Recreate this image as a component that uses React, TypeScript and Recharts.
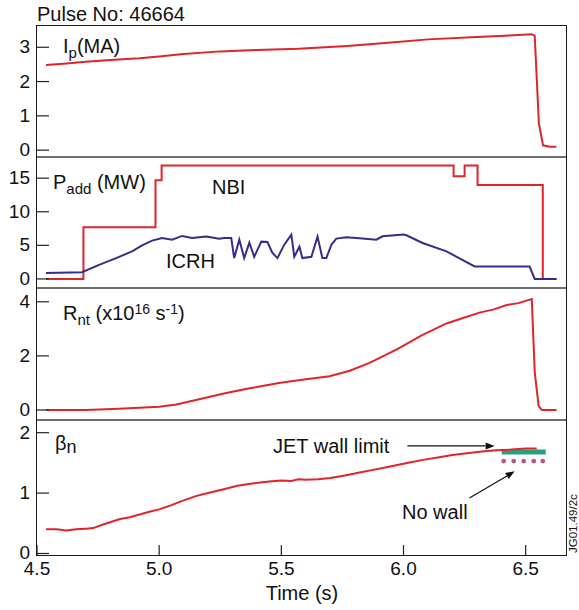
import { LineChart, ComposedChart, Line, Scatter, XAxis, YAxis, ReferenceLine } from 'recharts'

// time axis (s)
const X_DOMAIN: [number, number] = [4.5, 6.665]
const X_TICKS = [4.5, 5.0, 5.5, 6.0, 6.5]

// plasma current Ip (MA)
const IP_T = [4.537, 4.62, 4.7, 4.8, 4.92, 5.0, 5.1, 5.25, 5.4, 5.57, 5.77, 5.95, 6.1, 6.3, 6.45, 6.525, 6.537, 6.554, 6.571, 6.6, 6.626]
const IP_V = [2.48, 2.53, 2.58, 2.63, 2.68, 2.73, 2.8, 2.88, 2.92, 2.96, 3.04, 3.14, 3.23, 3.3, 3.35, 3.38, 3.33, 0.78, 0.14, 0.1, 0.1]

// NBI power (MW)
const NBI_T = [4.537, 4.69, 4.69, 4.985, 4.985, 5.01, 5.01, 6.205, 6.205, 6.25, 6.25, 6.303, 6.303, 6.57, 6.57, 6.626]
const NBI_V = [0, 0, 7.7, 7.7, 14.7, 14.7, 16.9, 16.9, 15.3, 15.3, 16.9, 16.9, 14.0, 14.0, 0, 0]

// ICRH power (MW)
const ICRH_T = [4.537, 4.684, 4.754, 4.824, 4.889, 4.93, 4.971, 5.012, 5.053, 5.094, 5.135, 5.193, 5.246, 5.266, 5.295, 5.307, 5.328, 5.348, 5.369, 5.389, 5.418, 5.443, 5.463, 5.484, 5.512, 5.541, 5.553, 5.574, 5.586, 5.623, 5.648, 5.668, 5.684, 5.705, 5.725, 5.766, 5.82, 5.889, 5.914, 6.0, 6.012, 6.078, 6.176, 6.291, 6.516, 6.537, 6.626]
const ICRH_V = [0.9, 1.0, 2.1, 3.1, 4.1, 5.0, 5.7, 6.1, 5.85, 6.4, 6.1, 6.3, 6.0, 6.1, 6.1, 3.1, 5.85, 3.1, 5.4, 3.3, 5.55, 5.5, 3.9, 3.1, 5.1, 6.6, 3.3, 4.8, 3.1, 3.3, 6.3, 3.1, 3.1, 5.1, 6.0, 6.2, 6.05, 5.85, 6.35, 6.6, 6.5, 5.35, 4.1, 1.85, 1.85, 0, 0]

// neutron rate Rnt (x10^16 s^-1)
const RNT_T = [4.537, 4.7, 4.836, 5.0, 5.07, 5.164, 5.26, 5.37, 5.49, 5.57, 5.697, 5.78, 5.861, 5.971, 6.078, 6.176, 6.25, 6.311, 6.37, 6.422, 6.47, 6.525, 6.537, 6.553, 6.566, 6.626]
const RNT_V = [0, 0.0, 0.05, 0.12, 0.2, 0.4, 0.6, 0.8, 1.0, 1.1, 1.25, 1.45, 1.74, 2.23, 2.78, 3.2, 3.42, 3.6, 3.72, 3.88, 3.95, 4.1, 1.4, 0.15, 0, 0]

// normalised beta
const BETA_T = [4.537, 4.58, 4.62, 4.66, 4.7, 4.73, 4.77, 4.84, 4.88, 4.96, 5.0, 5.05, 5.1, 5.15, 5.2, 5.26, 5.32, 5.38, 5.45, 5.5, 5.54, 5.57, 5.6, 5.65, 5.7, 5.76, 5.82, 5.87, 5.92, 5.97, 6.03, 6.08, 6.14, 6.2, 6.26, 6.32, 6.38, 6.44, 6.5, 6.545]
const BETA_V = [0.4, 0.4, 0.38, 0.4, 0.41, 0.42, 0.48, 0.57, 0.6, 0.69, 0.73, 0.8, 0.88, 0.95, 1.0, 1.06, 1.12, 1.16, 1.19, 1.21, 1.2, 1.23, 1.22, 1.23, 1.25, 1.29, 1.34, 1.38, 1.42, 1.46, 1.51, 1.55, 1.59, 1.63, 1.66, 1.69, 1.71, 1.72, 1.74, 1.74]

// wall limits
const WALL_LIMIT = 1.68
const WALL_T: [number, number] = [6.402, 6.582]
const NO_WALL_T = [6.41, 6.451, 6.492, 6.533, 6.57]
const NO_WALL_V = 1.53

const zip = (t: number[], v: number[]) => t.map((x, i) => ({ t: x, v: v[i] }))

const FONT = '"Liberation Sans", Arial, Helvetica, sans-serif'
const RED = '#e3232c'
const PURPLE = '#3b2a8c'
const TM = 5
const W = 579
const LEFT = 37
const RIGHT = 566

const YTick = (props: any) => {
  const { x, y, payload } = props
  return (
    <g>
      <line x1={x + TM} x2={x + TM + 12} y1={y} y2={y} stroke="#222" strokeWidth={1.2} />
      <text x={x - 2} y={y} dy={6} textAnchor="end" fontSize={19} fontFamily={FONT} fill="#111">
        {payload.value}
      </text>
    </g>
  )
}

const XTick = (props: any) => {
  const { x, y, payload } = props
  return (
    <g>
      <line x1={x} x2={x} y1={y - TM} y2={y - TM - 10} stroke="#222" strokeWidth={1.2} />
      <text x={x} y={y + 15} textAnchor="middle" fontSize={19} fontFamily={FONT} fill="#111">
        {Number(payload.value).toFixed(1)}
      </text>
    </g>
  )
}

const Arrow = (props: any) => {
  const { x1, y1, x2, y2 } = props
  if (x1 == null || x2 == null) return null
  const a = Math.atan2(y2 - y1, x2 - x1)
  const L = 9
  const w = 3.5
  const bx = x2 - L * Math.cos(a)
  const by = y2 - L * Math.sin(a)
  const px = -Math.sin(a) * w
  const py = Math.cos(a) * w
  return (
    <g>
      <line x1={x1} y1={y1} x2={bx} y2={by} stroke="#111" strokeWidth={1.2} />
      <polygon points={`${x2},${y2} ${bx + px},${by + py} ${bx - px},${by - py}`} fill="#111" />
    </g>
  )
}

const xAxisHidden = <XAxis type="number" dataKey="t" domain={X_DOMAIN} allowDataOverflow hide />

const yAxis = (domain: [number, number], ticks: number[]) => (
  <YAxis
    type="number"
    domain={domain}
    ticks={ticks}
    interval={0}
    allowDataOverflow
    width={LEFT}
    axisLine={false}
    tickLine={false}
    tickSize={0}
    tickMargin={TM}
    tick={<YTick />}
  />
)

const margin = { top: 0, right: W - RIGHT, left: 0, bottom: 0 }

export default function App() {
  return (
    <div style={{ position: 'absolute', left: 0, top: 0, width: W, height: 610, background: '#fff', fontFamily: FONT }}>
      <style>{'.recharts-surface{overflow:visible}'}</style>
      <div style={{ position: 'absolute', left: 0, top: 26 }}>
        <LineChart width={W} height={131} data={zip(IP_T, IP_V)} margin={margin}>
          {xAxisHidden}
          {yAxis([-0.2, 3.62], [0, 1, 2, 3])}
          <Line type="linear" dataKey="v" stroke={RED} strokeWidth={2} dot={false} isAnimationActive={false} />
        </LineChart>
      </div>

      <div style={{ position: 'absolute', left: 0, top: 157 }}>
        <LineChart width={W} height={131} margin={margin}>
          {xAxisHidden}
          {yAxis([-1.35, 18.15], [0, 5, 10, 15])}
          <Line data={zip(NBI_T, NBI_V)} type="linear" dataKey="v" stroke={RED} strokeWidth={2} dot={false} isAnimationActive={false} />
          <Line data={zip(ICRH_T, ICRH_V)} type="linear" dataKey="v" stroke={PURPLE} strokeWidth={2} dot={false} isAnimationActive={false} />
        </LineChart>
      </div>

      <div style={{ position: 'absolute', left: 0, top: 288 }}>
        <LineChart width={W} height={132} data={zip(RNT_T, RNT_V)} margin={margin}>
          {xAxisHidden}
          {yAxis([-0.37, 4.51], [0, 2, 4])}
          <Line type="linear" dataKey="v" stroke={RED} strokeWidth={2} dot={false} isAnimationActive={false} />
        </LineChart>
      </div>

      <div style={{ position: 'absolute', left: 0, top: 420 }}>
        <ComposedChart width={W} height={185} margin={margin}>
          <XAxis
            type="number"
            dataKey="t"
            domain={X_DOMAIN}
            ticks={X_TICKS}
            interval={0}
            allowDataOverflow
            height={50}
            axisLine={false}
            tickLine={false}
            tickSize={0}
            tickMargin={TM}
            tick={<XTick />}
          />
          {yAxis([-0.025, 2.21], [0, 1, 2])}
          <ReferenceLine
            segment={[{ x: WALL_T[0], y: WALL_LIMIT }, { x: WALL_T[1], y: WALL_LIMIT }]}
            stroke="#2a9f7b"
            strokeWidth={5}
          />
          <Scatter
            data={NO_WALL_T.map((t) => ({ t, v: NO_WALL_V }))}
            dataKey="v"
            fill="#b3588a"
            shape={(p: any) => <circle cx={p.cx} cy={p.cy} r={2.4} fill="#b3588a" />}
            isAnimationActive={false}
          />
          <Line data={zip(BETA_T, BETA_V)} type="linear" dataKey="v" stroke={RED} strokeWidth={2} dot={false} isAnimationActive={false} />
          <ReferenceLine segment={[{ x: 6.016, y: 1.78 }, { x: 6.373, y: 1.78 }]} shape={<Arrow />} />
          <ReferenceLine segment={[{ x: 6.27, y: 0.92 }, { x: 6.455, y: 1.36 }]} shape={<Arrow />} />
        </ComposedChart>
      </div>

      {/* frame */}
      <div style={{ position: 'absolute', left: LEFT - 1, top: 25, width: RIGHT - LEFT, height: 529, border: '1.5px solid #1a1a1a', pointerEvents: 'none' }} />
      {[157, 288, 420].map((y) => (
        <div key={y} style={{ position: 'absolute', left: LEFT, top: y - 1, width: RIGHT - LEFT, height: 2, background: '#6e6e6e', pointerEvents: 'none' }} />
      ))}

      <svg width={W} height={610} style={{ position: 'absolute', left: 0, top: 0, pointerEvents: 'none' }} fontFamily={FONT} fill="#111">
        <text x={37} y={21} fontSize={20}>Pulse No: 46664</text>
        <text x={63} y={53} fontSize={20}>
          I<tspan fontSize={15} dy={5}>p</tspan>
          <tspan dy={-5}>(MA)</tspan>
        </text>
        <text x={53} y={189} fontSize={20}>
          P<tspan fontSize={15} dy={5}>add</tspan>
          <tspan dy={-5}> (MW)</tspan>
        </text>
        <text x={212} y={194} fontSize={20}>NBI</text>
        <text x={166} y={268} fontSize={20}>ICRH</text>
        <text x={63} y={320} fontSize={20}>
          R<tspan fontSize={15} dy={5}>nt</tspan>
          <tspan dy={-5}> (x10</tspan>
          <tspan fontSize={14} dy={-6}>16</tspan>
          <tspan dy={6}> s</tspan>
          <tspan fontSize={14} dy={-6}>-1</tspan>
          <tspan dy={6}>)</tspan>
        </text>
        <text x={55} y={450} fontSize={20}>
          β<tspan fontSize={18} dy={3}>n</tspan>
        </text>
        <text x={273} y={453} fontSize={20}>JET wall limit</text>
        <text x={402} y={519} fontSize={20}>No wall</text>
        <text x={302} y={600} fontSize={20} textAnchor="middle">Time (s)</text>
        <text transform="translate(577,553) rotate(-90)" fontSize={11.5}>JG01.49/2c</text>
      </svg>
    </div>
  )
}
